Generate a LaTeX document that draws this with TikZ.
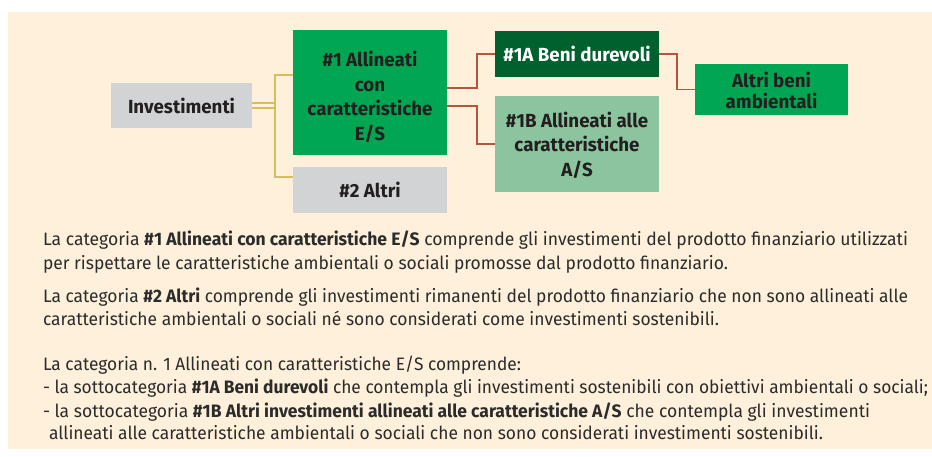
\documentclass[tikz,border=0pt]{standalone}
\usepackage{fontspec}
\setmainfont{Fira Sans}
\definecolor{bg}{HTML}{FEF0DA}
\definecolor{gbox}{HTML}{D1D3D4}
\definecolor{green1}{HTML}{00A651}
\definecolor{dgreen}{HTML}{00612F}
\definecolor{lgreen}{HTML}{8BC49E}
\definecolor{yline}{HTML}{D6BE5C}
\definecolor{rline}{HTML}{B4553E}
\definecolor{boxtext}{HTML}{231F20}
\definecolor{bodytext}{HTML}{2B2B2B}
\newsavebox\probebox
\newlength\probelen
\newcommand\bxfont{\fontsize{19}{24.7}\selectfont\bfseries}
\newcommand\bdfont{\fontsize{18}{23}\selectfont}
\newcommand\btr[2]{\raisebox{#1}[\height][\depth]{\scalebox{\boxx}[1]{\begin{tabular}{@{}c@{}}#2\end{tabular}}}}
\newcommand\bt[1]{\btr{-3pt}{#1}}
% scale a body line horizontally to a given width (in pt)
\newcommand\blw[2]{\sbox\probebox{#2}\setlength\probelen{\wd\probebox}\pgfmathsetmacro\tmpx{#1/\probelen}\scalebox{\tmpx}[1]{\usebox\probebox}}
\tikzset{
  box/.style={inner sep=0pt, outer sep=0pt, text=boxtext, font=\bxfont},
  yl/.style={draw=yline, line width=1.8pt},
  rl/.style={draw=rline, line width=1.8pt},
  bodyline/.style={anchor=base west, inner sep=0pt, outer sep=0pt, text=bodytext, font=\bdfont},
}
\begin{document}
\sbox\probebox{\bxfont Investimenti}%
\setlength\probelen{\wd\probebox}%
\pgfmathsetmacro\boxx{107/\probelen}%
\begin{tikzpicture}[x=1pt,y=-1pt]
\useasboundingbox (0,0) rectangle (932,456);
\fill[bg] (8,12) rectangle (932,449);

\node[box, fill=gbox, minimum width=141pt, minimum height=45pt] (inv) at (181.5,105.5) {\bt{Investimenti}};
\node[box, fill=green1, minimum width=154pt, minimum height=125pt] (es) at (370,92.5) {\btr{-6pt}{\#1 Allineati\\con\\caratteristiche\\E/S}};
\node[box, fill=gbox, minimum width=154pt, minimum height=46pt] (altri) at (370,190) {\bt{\#2 Altri}};
\node[box, fill=dgreen, text=white, minimum width=164pt, minimum height=46pt] (a1) at (577,54) {\bt{\#1A Beni durevoli}};
\node[box, fill=lgreen, minimum width=164pt, minimum height=96pt] (b1) at (577,144) {\bt{\#1B Allineati alle\\caratteristiche\\A/S}};
\node[box, fill=green1, minimum width=153pt, minimum height=51pt] (beni) at (771.5,89.5) {\btr{-3.5pt}{Altri beni\\[-3.5pt]ambientali}};

\draw[yl] ([yshift=2.5pt]inv.east) -- ++(23,0);
\draw[yl] ([yshift=-2.5pt]inv.east) -- ++(23,0);
\draw[yl] ([yshift=17.5pt]es.west) -- ++(-18,0) |- ([yshift=13pt]altri.west);

\draw[rl] ([yshift=4.5pt]es.east) -- ++(30,0) |- (a1.west);
\draw[rl] ([yshift=-13.5pt]es.east) -- ++(30,0) |- (b1.west);
\draw[rl] (a1.east) -- ++(18,0) |- (beni.west);

\node[bodyline] (t1) at (43,245.5) {\blw{865}{La categoria \textbf{\#1 Allineati con caratteristiche E/S} comprende gli investimenti del prodotto finanziario utilizzati}};
\node[bodyline] (t2) at (43,269) {\blw{685}{per rispettare le caratteristiche ambientali o sociali promosse dal prodotto finanziario.}};
\node[bodyline] (t3) at (43,302) {\blw{865}{La categoria \textbf{\#2 Altri} comprende gli investimenti rimanenti del prodotto finanziario che non sono allineati alle}};
\node[bodyline] (t4) at (43,325) {\blw{676}{caratteristiche ambientali o sociali né sono considerati come investimenti sostenibili.}};
\node[bodyline] (t5) at (43,370) {\blw{478}{La categoria n. 1 Allineati con caratteristiche E/S comprende:}};
\node[bodyline] (t6) at (43,393) {\blw{885}{- la sottocategoria \textbf{\#1A Beni durevoli} che contempla gli investimenti sostenibili con obiettivi ambientali o sociali;}};
\node[bodyline] (t7) at (43,417) {\blw{827}{- la sottocategoria \textbf{\#1B Altri investimenti allineati alle caratteristiche A/S} che contempla gli investimenti}};
\node[bodyline] (t8) at (49,439) {\blw{774}{allineati alle caratteristiche ambientali o sociali che non sono considerati investimenti sostenibili.}};
\end{tikzpicture}
\end{document}
